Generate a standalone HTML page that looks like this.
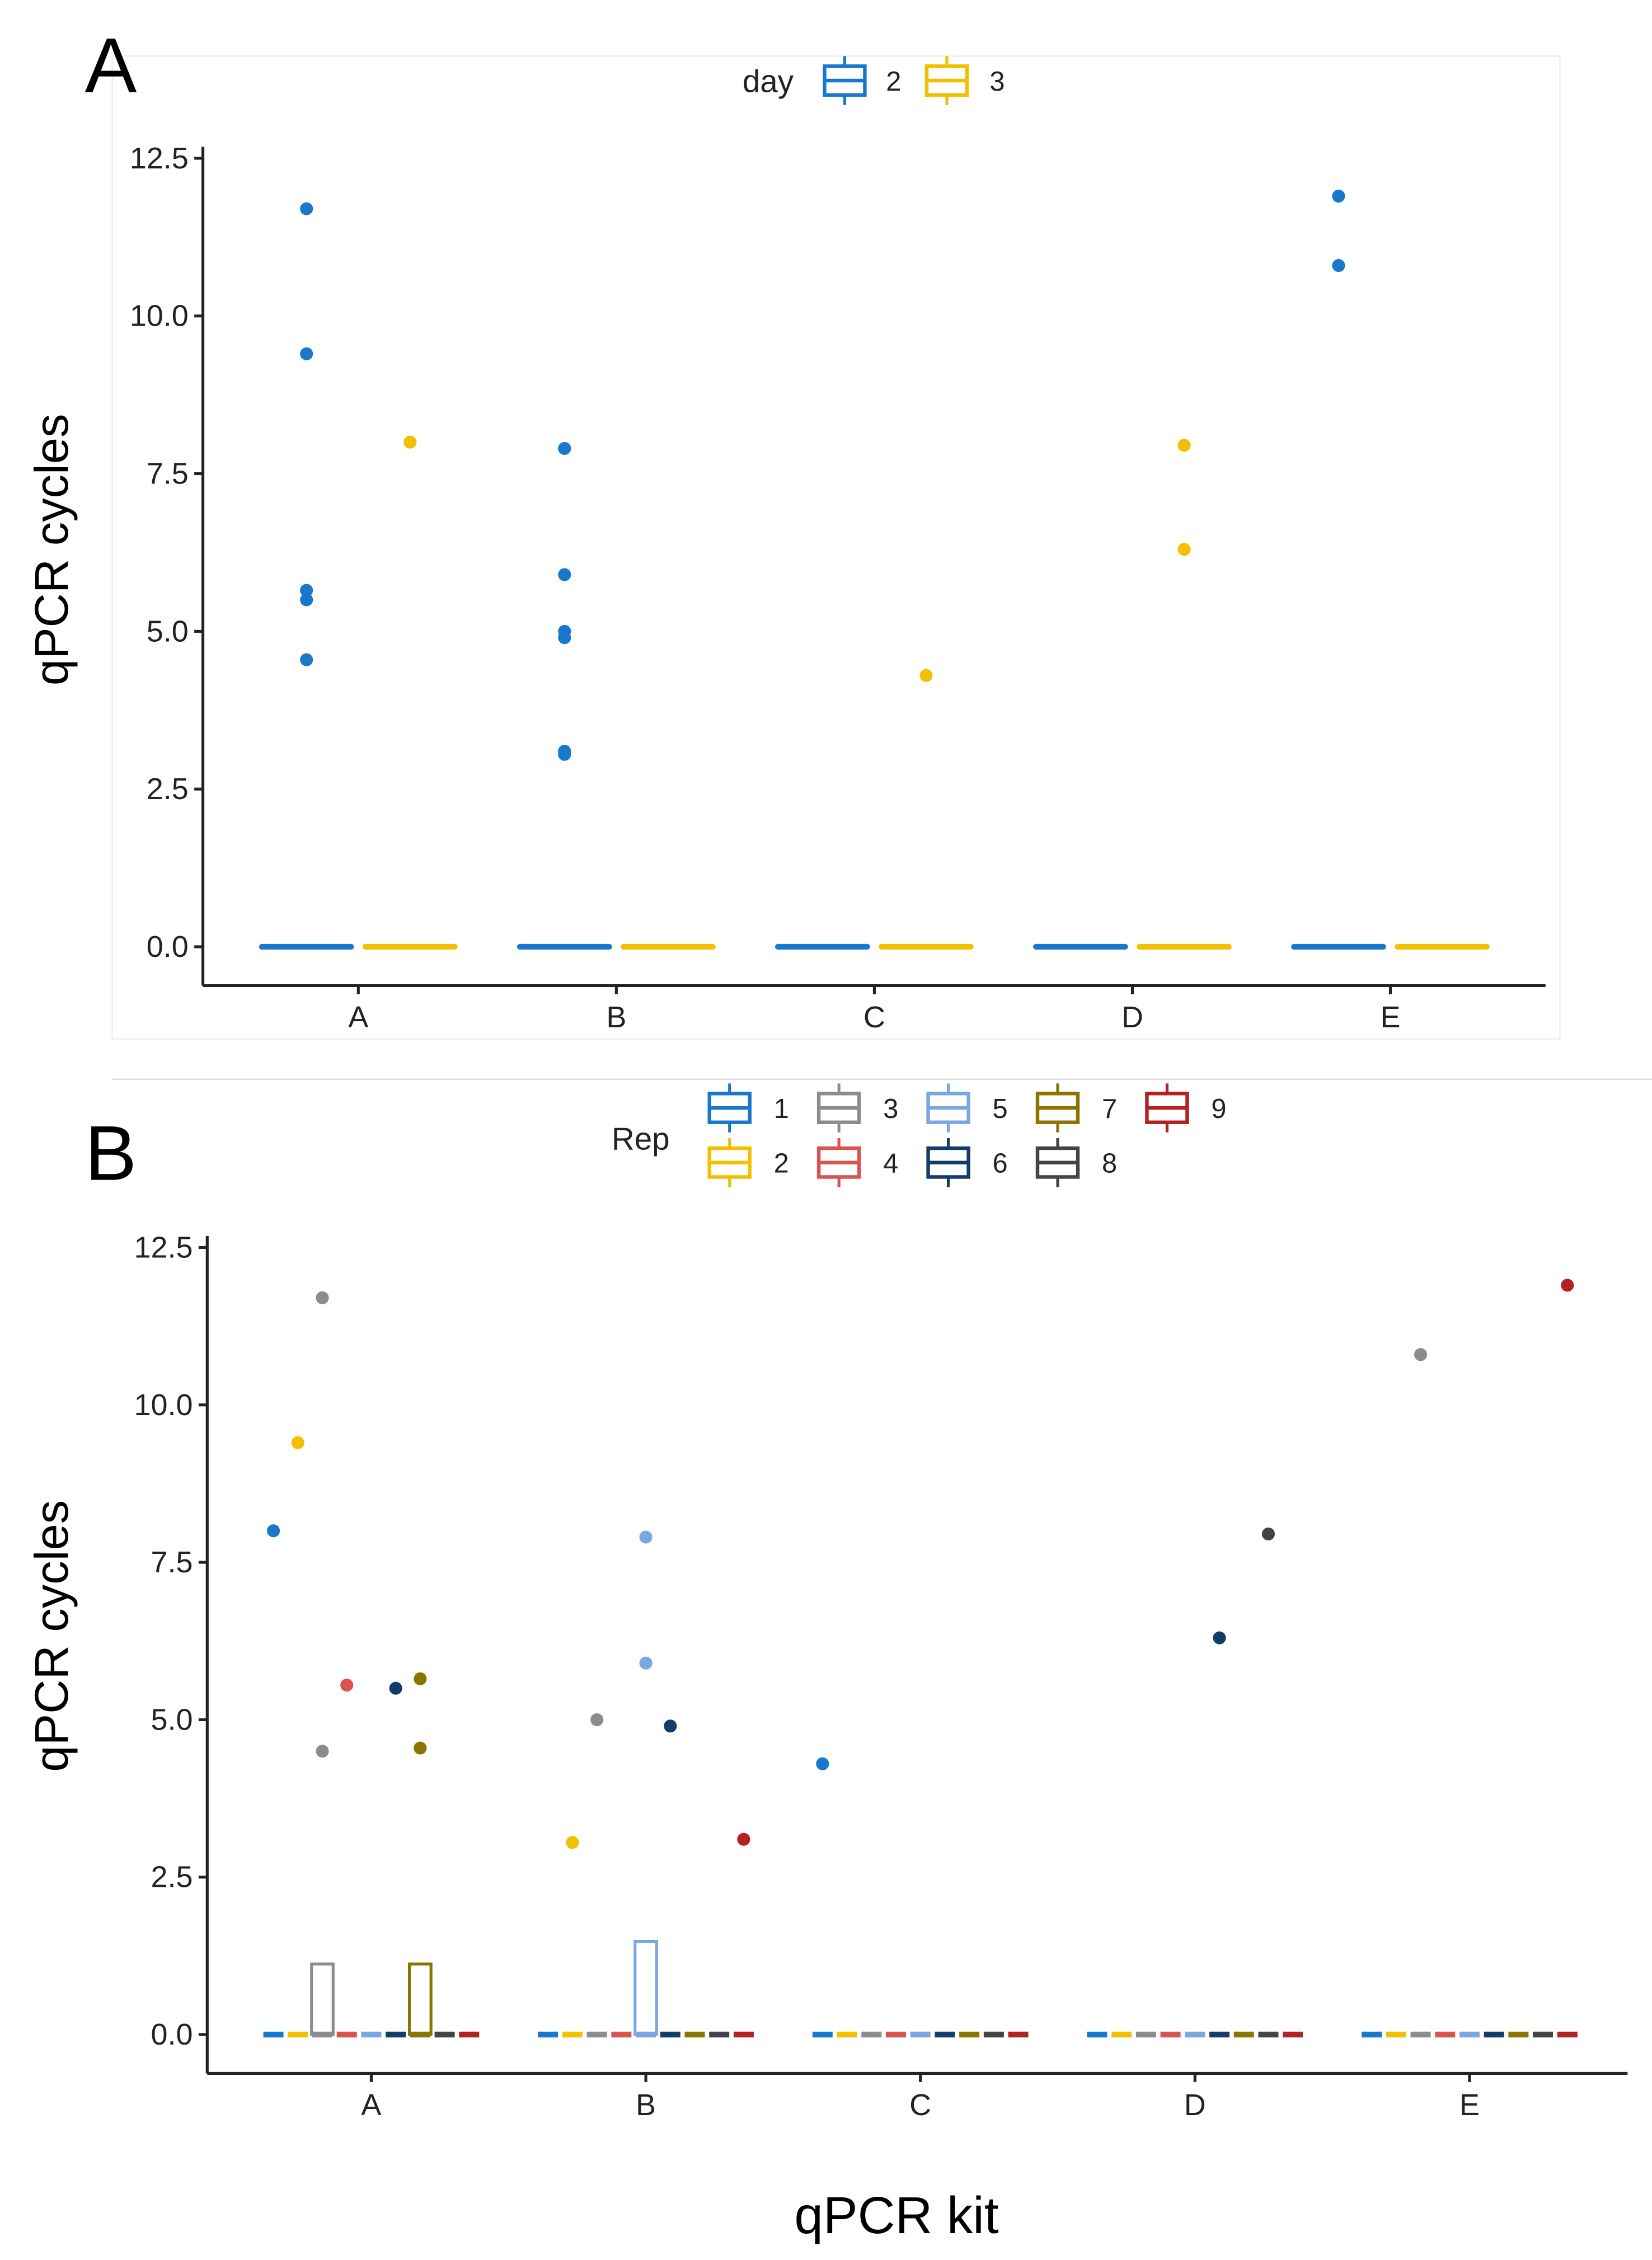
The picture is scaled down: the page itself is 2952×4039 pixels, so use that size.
<!DOCTYPE html>
<html><head><meta charset="utf-8"><style>
html,body{margin:0;padding:0;background:#fff;}
svg{display:block;font-family:"Liberation Sans",Arial,sans-serif;}
</style></head><body>
<svg id="fig" width="2952" height="4039" viewBox="0 0 1148 1570.7" preserveAspectRatio="none" xmlns="http://www.w3.org/2000/svg">
<rect x="0" y="0" width="1148" height="1571" fill="#fff"/>
<g transform="translate(1,2)">
<rect x="77" y="37" width="1006" height="683" fill="none" stroke="#eee" stroke-width="1"/>
<line x1="77" y1="748" x2="1148" y2="748" stroke="#ddd" stroke-width="1"/>
<text x="58" y="62" font-size="54">A</text>
<text x="58" y="818" font-size="54">B</text>
<text transform="translate(46,380) rotate(-90)" text-anchor="middle" font-size="33">qPCR cycles</text>
<text transform="translate(46,1135) rotate(-90)" text-anchor="middle" font-size="33">qPCR cycles</text>
<text x="622" y="1550" text-anchor="middle" font-size="36">qPCR kit</text>
<g id="gA"></g>
<g id="gB"></g>
</g>
</svg>
<script>
const NS="http://www.w3.org/2000/svg";
const categories=["A","B","C","D","E"];
const yTicks=[0,2.5,5,7.5,10,12.5];
const yTickLabels=["0.0","2.5","5.0","7.5","10.0","12.5"];
// Panel A: day 2 / day 3 points [category index, value]
const dayLabels=["2","3"];
const day2Points=[[0,11.7],[0,9.4],[0,5.65],[0,5.5],[0,4.55],[1,7.9],[1,5.9],[1,5.0],[1,4.9],[1,3.1],[1,3.05],[4,11.9],[4,10.8]];
const day3Points=[[0,8.0],[2,4.3],[3,7.95],[3,6.3]];
// Panel B: rep points [category index, rep, value]
const repLabels=["1","2","3","4","5","6","7","8","9"];
const repPoints=[[0,1,8.0],[0,2,9.4],[0,3,11.7],[0,3,4.5],[0,4,5.55],[0,6,5.5],[0,7,5.65],[0,7,4.55],
[1,2,3.05],[1,3,5.0],[1,5,7.9],[1,5,5.9],[1,6,4.9],[1,9,3.1],
[2,1,4.3],[3,6,6.3],[3,8,7.95],[4,3,10.8],[4,9,11.9]];
// Rep box tops (upper hinge) [category index, rep, upper]
const repBoxes=[[0,3,1.12],[0,7,1.12],[1,5,1.48]];
const dayColors=["#1a78cc","#f2c000"];
const repColors=["#1a78cc","#f2c000","#8c8c8c","#d9534f","#7ba7e0","#123d6b","#8b7500","#444444","#b22222"];

function el(parent,tag,attrs,text){const e=document.createElementNS(NS,tag);for(const k in attrs)e.setAttribute(k,attrs[k]);if(text!==undefined)e.textContent=text;parent.appendChild(e);return e;}

function axes(g,x0,x1,yTop,yZero,yAxisBottom,catX,prefix){
  const ys=v=>yZero-(v/12.5)*(yZero-yTop);
  const ya=el(g,"line",{x1:x0,y1:yTop-8,x2:x0,y2:yAxisBottom,stroke:"#222","stroke-width":2});
  
  
  const xa=el(g,"line",{x1:x0,y1:yAxisBottom,x2:x1,y2:yAxisBottom,stroke:"#222","stroke-width":2});
  
  
  yTicks.forEach((v,i)=>{
    const t=el(g,"line",{x1:x0-6,y1:ys(v),x2:x0,y2:ys(v),stroke:"#222","stroke-width":2});
    
    
    const l=el(g,"text",{x:x0-10,y:ys(v)+7,"text-anchor":"end","font-size":21,fill:"#222"},yTickLabels[i]);
    
    
  });
  categories.forEach((c,i)=>{
    const t=el(g,"line",{x1:catX(i),y1:yAxisBottom,x2:catX(i),y2:yAxisBottom+6,stroke:"#222","stroke-width":2});
    
    
    const l=el(g,"text",{x:catX(i),y:yAxisBottom+29,"text-anchor":"middle","font-size":21,fill:"#222"},c);
    
    
  });
  return ys;
}
function legendIcon(g,cx,cy,color,name){
  const gg=el(g,"g",{});
  
  
  el(gg,"line",{x1:cx,y1:cy-17,x2:cx,y2:cy+17,stroke:color,"stroke-width":2});
  el(gg,"rect",{x:cx-14,y:cy-10,width:28,height:20,fill:"#fff",stroke:color,"stroke-width":2.5});
  el(gg,"line",{x1:cx-14,y1:cy,x2:cx+14,y2:cy,stroke:color,"stroke-width":2.5});
}

// Panel A
const gA=document.getElementById("gA");
const catXA=i=>248+i*179.3;
const ysA=axes(gA,140,1073,108,656,683,catXA,"panel-a");
const offA=[-36,36];
categories.forEach((c,i)=>{[0,1].forEach(d=>{
  const b=el(gA,"line",{x1:catXA(i)+offA[d]-31,y1:ysA(0),x2:catXA(i)+offA[d]+31,y2:ysA(0),stroke:dayColors[d],"stroke-width":4,"stroke-linecap":"round"});
  
  
});});
[day2Points,day3Points].forEach((pts,d)=>pts.forEach(p=>{
  const dot=el(gA,"circle",{cx:catXA(p[0])+offA[d],cy:ysA(p[1]),r:4.5,fill:dayColors[d]});
  
  
}));
const lA=el(gA,"text",{x:515,y:62,"font-size":22,fill:"#222"},"day");


[[586,620],[657,692]].forEach((p,d)=>{
  legendIcon(gA,p[0],54,dayColors[d],'legend-entry-day'+dayLabels[d]);
  const t=el(gA,"text",{x:p[1],y:61,"font-size":19,fill:"#222","text-anchor":"middle"},dayLabels[d]);
  
  
});

// Panel B
const gB=document.getElementById("gB");
const catXB=i=>257+i*190.8;
const ysB=axes(gB,143,1130,865,1412,1439,catXB,"panel-b");
const dodge=r=>(r-5)*17;
categories.forEach((c,i)=>{repLabels.forEach((rl,r)=>{
  const b=el(gB,"line",{x1:catXB(i)+dodge(r+1)-7,y1:ysB(0),x2:catXB(i)+dodge(r+1)+7,y2:ysB(0),stroke:repColors[r],"stroke-width":4});
  
  
});});
repBoxes.forEach(b=>{
  const x=catXB(b[0])+dodge(b[1]);
  const r=el(gB,"rect",{x:x-7.5,y:ysB(b[2]),width:15,height:ysB(0)-ysB(b[2]),fill:"none",stroke:repColors[b[1]-1],"stroke-width":2});
  
  
});
repPoints.forEach(p=>{
  const dot=el(gB,"circle",{cx:catXB(p[0])+dodge(p[1]),cy:ysB(p[2]),r:4.5,fill:repColors[p[1]-1]});
  
  
});
const lB=el(gB,"text",{x:424,y:797,"font-size":22,fill:"#222"},"Rep");


const legCols=[506,582,658,734,810];
repLabels.forEach((rl,r)=>{
  const col=Math.floor(r/2), row=r%2;
  const cx=legCols[col], cy=row?806:768;
  legendIcon(gB,cx,cy,repColors[r],'legend-entry-rep'+rl);
  const t=el(gB,"text",{x:cx+36,y:cy+7,"font-size":19,fill:"#222","text-anchor":"middle"},rl);
  
  
});
</script>
</body></html>
